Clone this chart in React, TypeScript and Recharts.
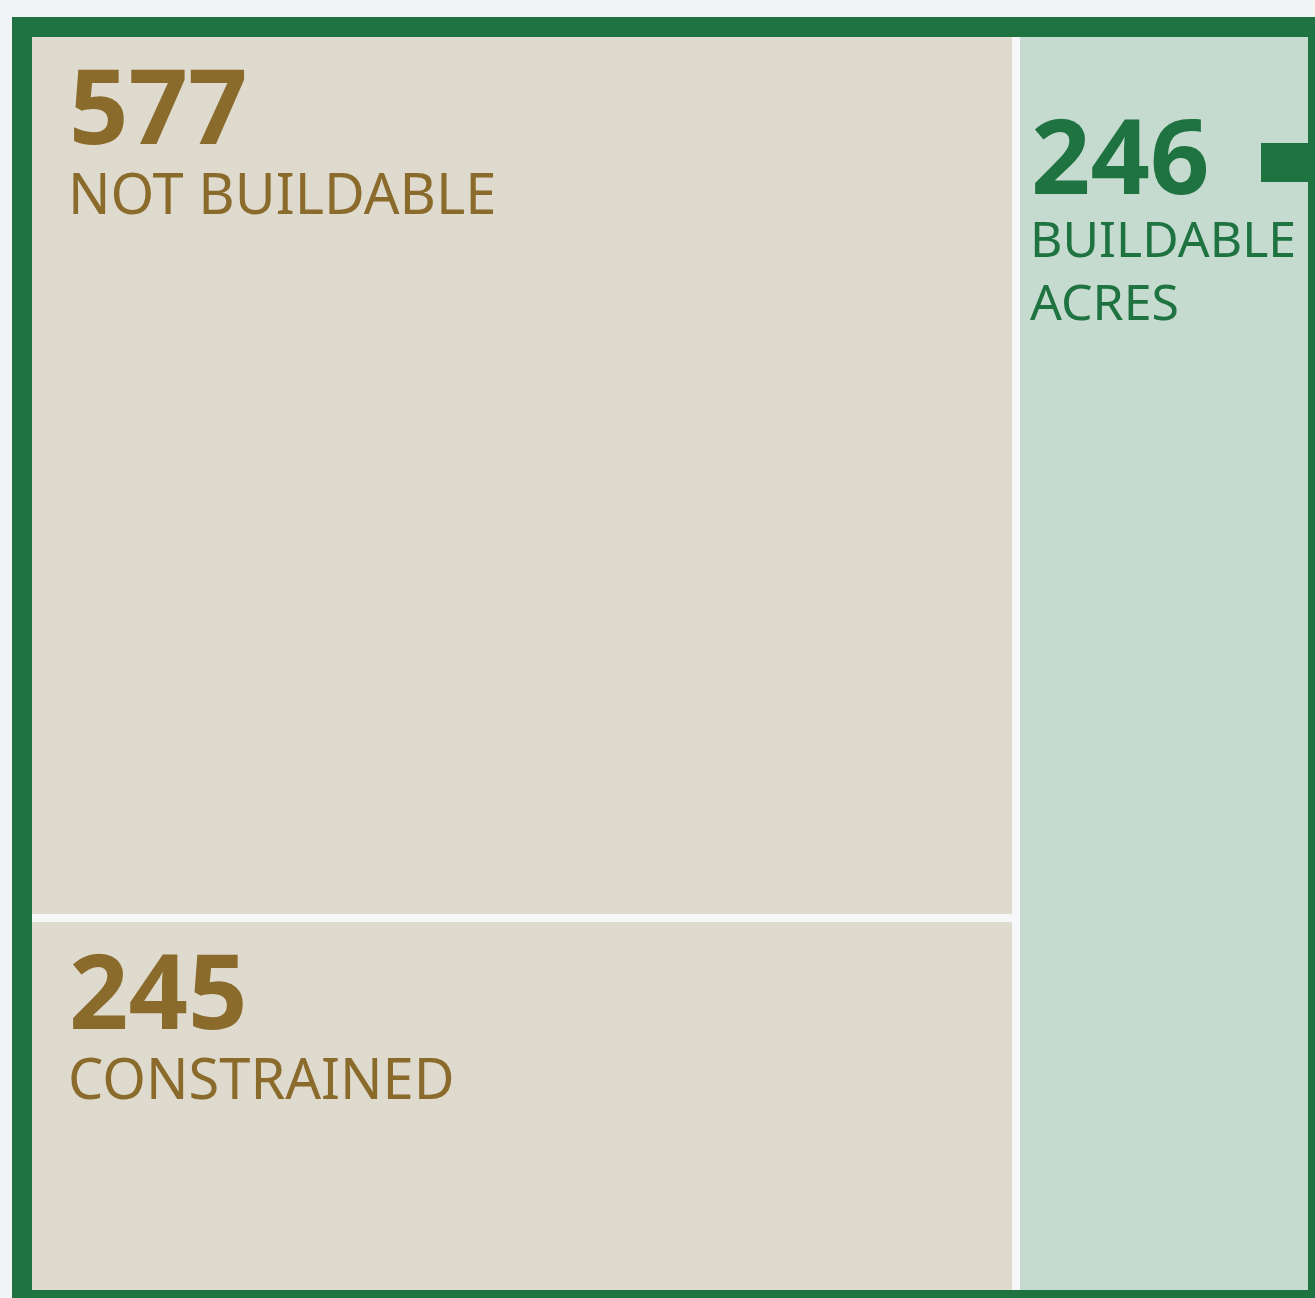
import * as React from "react";
import { Treemap } from "recharts";

const categories = ["NOT BUILDABLE", "CONSTRAINED", "BUILDABLE ACRES"];
const acres = [577, 245, 246];

const GREEN = "#1f7340";
const GOLD = "#8b6b2b";
const BEIGE = "#dedace";
const MINT = "#c6dbd0";
const GAP = 4;
const FONT = "'Noto Sans', sans-serif";

const data = [
  {
    name: "unbuildable",
    children: [
      { name: categories[0], size: acres[0] },
      { name: categories[1], size: acres[1] },
    ],
  },
  { name: categories[2], size: acres[2] },
];

function Cell(props: any) {
  const { x, y, width, height, name, value, children, depth } = props;
  if (depth === 0 || (children && children.length)) return <g />;

  const cx = x + GAP;
  const cy = y + GAP;
  const w = width - GAP * 2;
  const h = height - GAP * 2;
  const buildable = name === categories[2];

  if (buildable) {
    const words = String(name).split(" ");
    return (
      <g>
        <rect x={cx} y={cy} width={w} height={h} fill={MINT} />
        <rect x={cx + w - 47} y={cy + 106} width={47} height={39} fill={GREEN} />
        <text x={cx + 11} y={cy + 157} fill={GREEN} fontFamily={FONT} fontWeight={700} fontSize={104}>
          {value}
        </text>
        {words.map((word: string, i: number) => (
          <text
            key={word}
            x={cx + 10}
            y={cy + 220 + i * 63}
            fill={GREEN}
            fontFamily={FONT}
            fontSize={50}
          >
            {word}
          </text>
        ))}
      </g>
    );
  }

  return (
    <g>
      <rect x={cx} y={cy} width={w} height={h} fill={BEIGE} />
      <text x={cx + 37} y={cy + 107} fill={GOLD} fontFamily={FONT} fontWeight={700} fontSize={104}>
        {value}
      </text>
      <text x={cx + 36} y={cy + 177} fill={GOLD} fontFamily={FONT} fontSize={56}>
        {name}
      </text>
    </g>
  );
}

export default function App() {
  return (
    <div
      style={{
        position: "absolute",
        left: 0,
        top: 0,
        width: 1315,
        height: 1298,
        overflow: "hidden",
        background: "#f2f5f6",
      }}
    >
      <div
        style={{
          position: "absolute",
          left: 12,
          top: 17,
          width: 1316,
          height: 1293,
          boxSizing: "border-box",
          border: `20px solid ${GREEN}`,
          background: "#f5f7f9",
          overflow: "hidden",
        }}
      >
        <div style={{ position: "absolute", left: -GAP, top: -GAP }}>
          <Treemap
            width={1276 + GAP * 2}
            height={1253 + GAP * 2}
            data={data}
            dataKey="size"
            nameKey="name"
            content={<Cell />}
            isAnimationActive={false}
          />
        </div>
      </div>
    </div>
  );
}
